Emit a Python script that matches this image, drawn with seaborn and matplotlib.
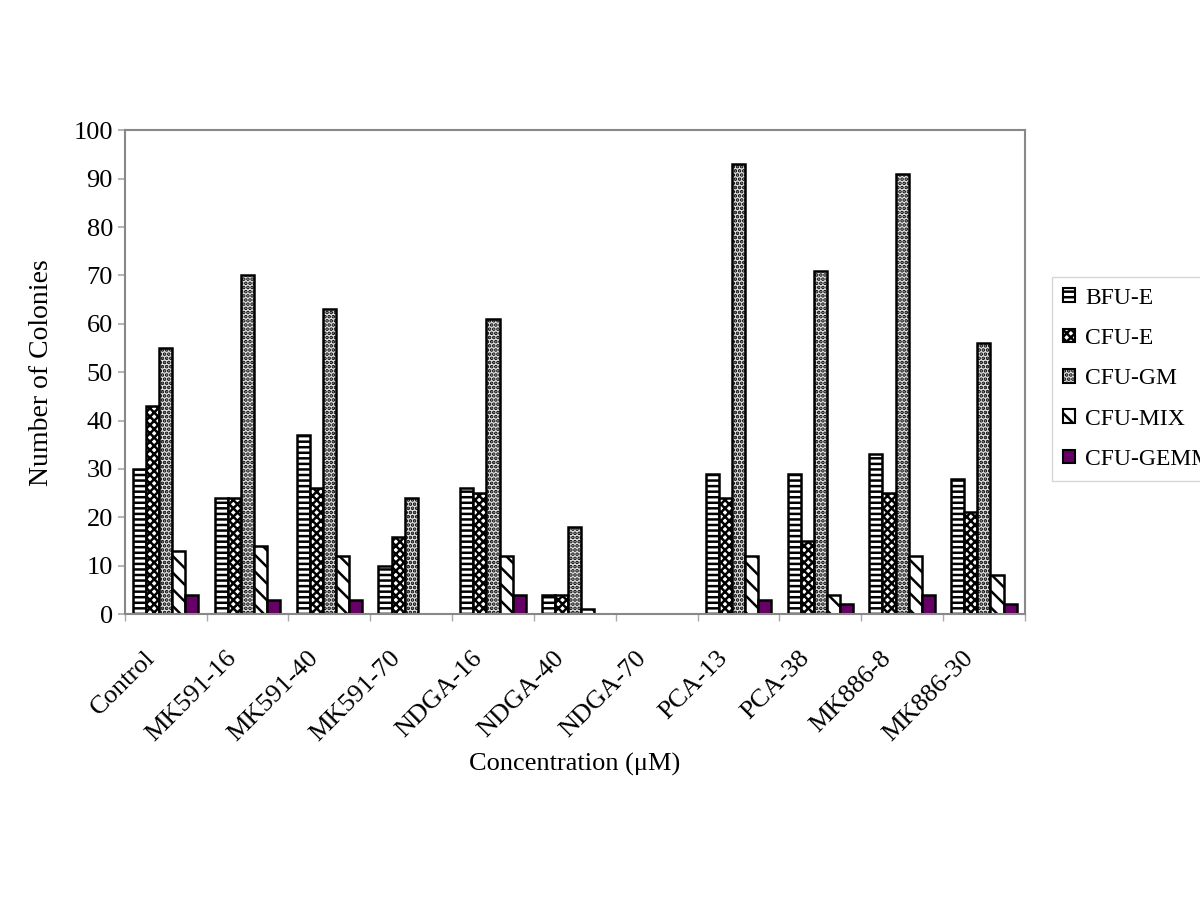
import matplotlib
matplotlib.use("Agg")
import matplotlib.pyplot as plt
from matplotlib.patches import Patch
from matplotlib.transforms import ScaledTranslation
import seaborn as sns
import pandas as pd
import numpy as np

categories = ["Control", "MK591-16", "MK591-40", "MK591-70", "NDGA-16", "NDGA-40",
              "NDGA-70", "PCA-13", "PCA-38", "MK886-8", "MK886-30"]
series = ["BFU-E", "CFU-E", "CFU-GM", "CFU-MIX", "CFU-GEMM"]
bfu_e = [30, 24, 37, 10, 26, 4, 0, 29, 29, 33, 28]
cfu_e = [43, 24, 26, 16, 25, 4, 0, 24, 15, 25, 21]
cfu_gm = [55, 70, 63, 24, 61, 18, 0, 93, 71, 91, 56]
cfu_mix = [13, 14, 12, 0, 12, 1, 0, 12, 4, 12, 8]
cfu_gemm = [4, 3, 3, 0, 4, 0, 0, 3, 2, 4, 2]

values = [bfu_e, cfu_e, cfu_gm, cfu_mix, cfu_gemm]
rows = []
for s, vals in zip(series, values):
    for c, v in zip(categories, vals):
        rows.append({"Category": c, "Series": s, "Value": v})
df = pd.DataFrame(rows)

sns.set_theme(style="white")
plt.rcParams["font.family"] = ["Liberation Serif", "DejaVu Serif"]
plt.rcParams["hatch.linewidth"] = 1.8
plt.rcParams["text.color"] = "black"
plt.rcParams["axes.labelcolor"] = "black"
plt.rcParams["xtick.color"] = "black"
plt.rcParams["ytick.color"] = "black"

FS = 19

fig = plt.figure(figsize=(12, 8.99), dpi=100)
ax = fig.add_axes([0.104, 0.317, 0.75, 0.538])

faces = ["white", "white", "#e2e2e2", "white", "#660066"]
hatches = ["---", "xxxx", "....", "\\\\", None]
palette = dict(zip(series, faces))

sns.barplot(data=df, x="Category", y="Value", hue="Series", order=categories,
            hue_order=series, palette=palette, width=0.8, ax=ax,
            edgecolor="black", linewidth=1.8, saturation=1, legend=False)

for cont, h, fc in zip(ax.containers, hatches, faces):
    for p in cont.patches:
        p.set_facecolor(fc)
        p.set_edgecolor("black")
        if h:
            p.set_hatch(h)

ax.set_ylim(0, 100)
ax.set_xlim(-0.5, len(categories) - 0.5)
ax.set_yticks(np.arange(0, 101, 10))
ax.tick_params(axis="y", labelsize=FS, left=True, length=5, color="#aaaaaa",
               direction="out", labelcolor="black")
ax.set_xticks(range(len(categories)))
ax.set_xticklabels(categories, rotation=45, ha="right", rotation_mode="anchor", fontsize=FS)
ax.tick_params(axis="x", bottom=False, pad=12, labelcolor="black")
offset = ScaledTranslation(-0.22, -0.08, fig.dpi_scale_trans)
for lbl in ax.get_xticklabels():
    lbl.set_transform(lbl.get_transform() + offset)
ax.set_xticks(np.arange(-0.5, len(categories), 1), minor=True)
ax.tick_params(axis="x", which="minor", bottom=True, length=5, color="#aaaaaa", direction="out")

for sp in ax.spines.values():
    sp.set_color("#888888")
    sp.set_linewidth(1.5)

ax.set_ylabel("Number of Colonies", fontsize=FS + 1, labelpad=14)
ax.set_xlabel("Concentration (\u03bcM)", fontsize=FS, labelpad=5)

handles = [Patch(facecolor=fc, edgecolor="black", hatch=h, linewidth=1.5)
           for fc, h in zip(faces, hatches)]
leg = fig.legend(handles, series, loc="upper left", bbox_to_anchor=(0.877, 0.692),
                 frameon=True, fancybox=False, fontsize=17, handlelength=0.5,
                 handleheight=0.5, labelspacing=0.82, borderpad=0.45,
                 handletextpad=0.45, borderaxespad=0)
leg.get_frame().set_edgecolor("#cccccc")
leg.get_frame().set_linewidth(1.0)

fig.savefig("out.png", dpi=100, facecolor="white")
